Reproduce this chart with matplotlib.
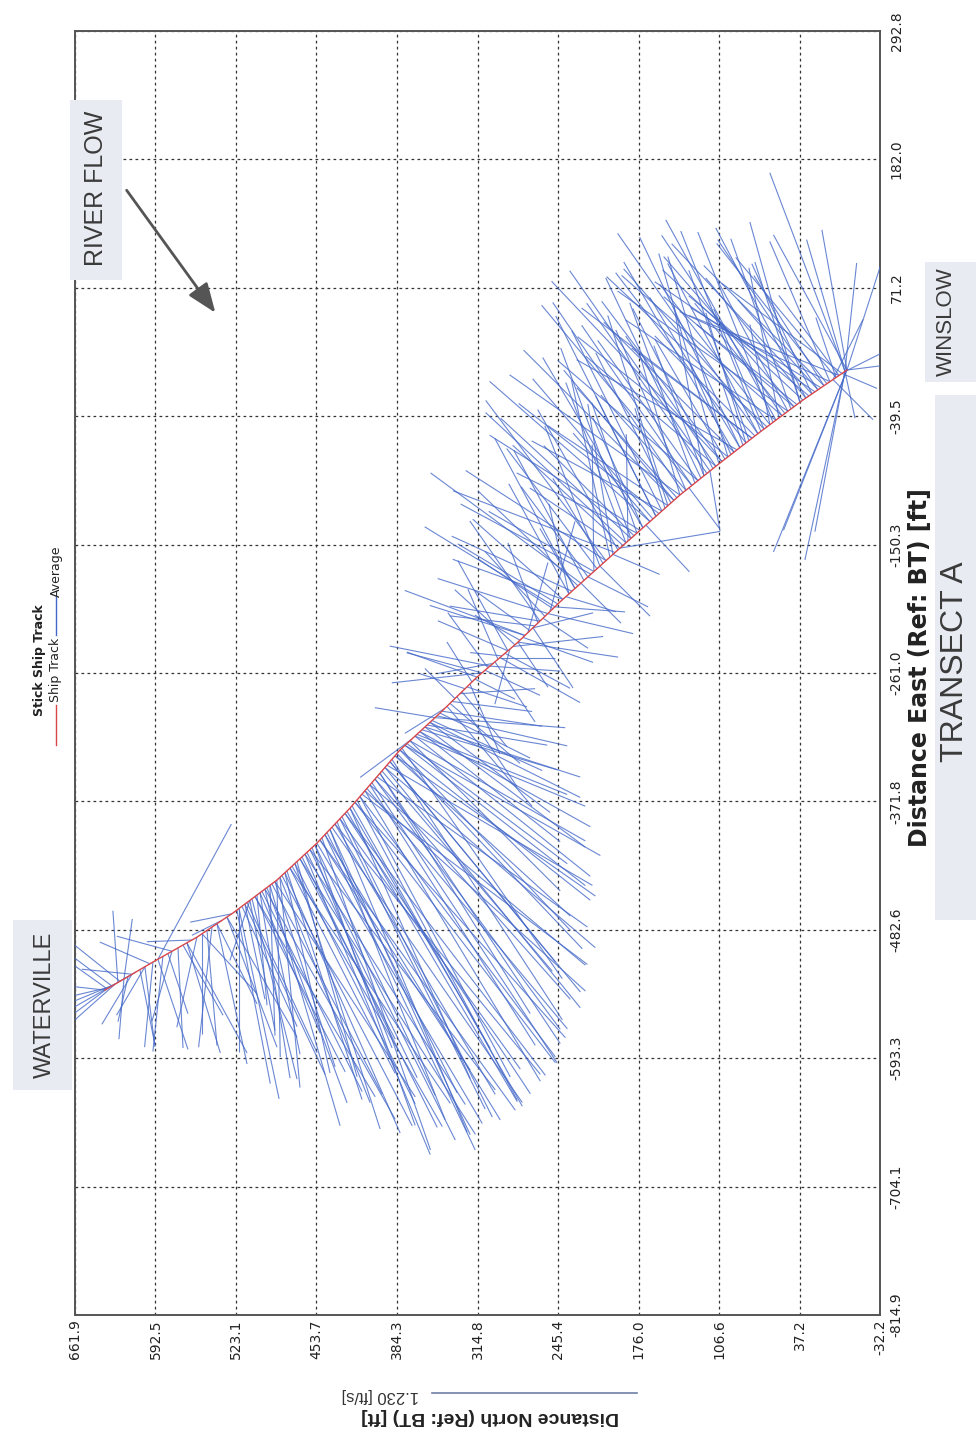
import numpy as np
import matplotlib
matplotlib.use("Agg")
import matplotlib.pyplot as plt
from matplotlib.collections import LineCollection
from matplotlib.patches import Rectangle, FancyArrowPatch
from matplotlib.lines import Line2D

plt.rcParams['font.family'] = ['Liberation Sans', 'DejaVu Sans']

# ---------------- data ----------------
north_ticks = [661.9, 592.5, 523.1, 453.7, 384.3, 314.8, 245.4, 176.0, 106.6, 37.2, -32.2]
east_ticks = [-814.9, -704.1, -593.3, -482.6, -371.8, -261.0, -150.3, -39.5, 71.2, 182.0, 292.8]
north_labels = ["661.9", "592.5", "523.1", "453.7", "384.3", "314.8", "245.4", "176.0", "106.6", "37.2", "-32.2"]
east_labels = ["-814.9", "-704.1", "-593.3", "-482.6", "-371.8", "-261.0", "-150.3", "-39.5", "71.2", "182.0", "292.8"]

# ship track (ft)
track_north = [636.1, 594.7, 556.7, 525.7, 487.8, 453.3, 424.8, 381.7, 347.2, 315.3,
               280.8, 243.8, 192.0, 140.3, 105.8, 71.3, 34.3, -3.7]
track_east = [-534.6, -510.4, -488.9, -468.1, -439.7, -407.8, -377.6, -327.5, -295.6, -264.6,
              -235.2, -199.8, -153.3, -107.5, -79.9, -53.2, -25.6, 0.3]

# ensemble positions (ft) where each stick starts
stick_north = [
    636.1, 634.3, 631.8, 630.0, 627.5, 624.9, 623.1, 619.7, 616.2, 612.8, 609.3, 605.9, 601.6, 597.3, 594.7, 590.4,
    586.1, 581.8, 578.3, 573.1, 568.8, 565.4, 561.1, 556.8, 552.4, 548.1, 543.8, 539.5, 535.2, 530.9, 526.6,
    522.3, 520.5, 517.9, 515.4, 513.6, 511.1, 509.3, 506.7, 505.0, 502.4,
    500.7, 498.1, 496.4, 493.8, 492.1, 489.5, 487.8, 485.2, 483.5, 480.9,
    479.2, 476.6, 474.8, 472.3, 470.5, 467.9, 466.2, 463.6, 461.9, 459.3,
    457.6, 455.0, 453.3, 450.7, 449.0, 446.4, 444.7, 442.1, 440.4, 437.8,
    436.0, 433.5, 431.7, 429.1, 427.4, 424.8, 423.1, 420.5, 418.8, 416.2,
    414.5, 411.9, 410.2, 407.6, 405.9, 403.3, 401.5, 399.0, 397.2, 394.7,
    392.9, 390.3, 388.6, 386.0, 384.3, 381.7, 380.0, 377.4, 375.7, 373.1,
    371.4, 368.8, 367.1, 364.5, 362.8, 360.2, 358.4, 355.9, 354.1, 351.5,
    349.8, 347.2, 345.5, 342.9, 341.2, 338.6, 336.9, 334.3, 332.6, 330.0,
    328.3, 325.7, 324.0, 321.4, 319.6, 317.1, 315.3,
    311.0, 308.4, 305.9, 304.1, 301.5, 299.8, 297.2, 295.5, 293.8, 291.2, 288.6, 286.9, 284.3, 282.6, 280.0, 278.3,
    275.7, 273.9, 271.4, 269.6, 267.0, 265.3, 262.7, 261.0, 258.4, 256.7, 254.1, 252.4, 249.8, 248.1, 245.5,
    241.2, 238.6, 236.0, 233.4, 230.8, 228.2, 225.7, 223.1, 219.6, 217.0,
    214.5, 211.9, 209.3, 206.7, 204.1, 200.7, 198.1, 196.3, 193.8, 192.0,
    189.5, 186.9, 185.1, 182.6, 180.0, 177.4, 174.8, 172.2, 169.6, 166.2,
    163.6, 161.0, 158.4, 155.8, 153.2, 150.7, 148.1, 145.5, 142.9, 140.3,
    137.7, 135.1, 132.5, 130.0, 127.4, 124.8, 122.2, 119.6, 117.0, 114.4,
    111.9, 109.3, 106.7,
    104.1, 101.5, 98.9, 96.3, 93.7, 91.2, 88.6, 86.0, 83.4, 80.8,
    78.2, 75.6, 73.1, 70.5, 67.9, 65.3, 62.7, 60.1, 57.5, 54.9,
    52.4, 49.8, 47.2, 44.6, 42.0, 39.4, 36.8, 34.3, 31.7, 29.1,
    26.5, 23.9, 21.3, 18.7, 16.1, 13.6, 11.0,
    -2.0, -3.7, -2.0, -3.7, -2.0, -3.7, -2.0, -3.7, -2.0, -3.7, -2.0, -3.7, -2.0,
    0.6, 3.2, 5.8, 8.4, 0.6, 3.2, 5.8, 8.4,
    # second pass (extra ensembles)
    520.5, 515.4, 511.1, 506.7, 502.4, 498.1, 493.8, 489.5, 485.2, 480.9,
    476.6, 472.3, 467.9, 463.6, 459.3, 455.0, 450.7, 446.4, 442.1, 437.8,
    433.5, 429.1, 424.8, 420.5, 416.2, 411.9, 407.6, 403.3, 399.0, 394.7,
    390.3, 386.0, 381.7, 377.4, 373.1, 368.8, 364.5, 360.2, 355.9, 351.5,
    241.2, 236.0, 230.8, 225.7, 219.6, 214.5, 209.3, 204.1, 198.1, 192.0,
    186.9, 182.6, 177.4, 172.2, 166.2, 161.0, 155.8, 150.7, 145.5, 140.3,
    135.1, 130.0, 124.8, 119.6, 114.4, 109.3, 104.1, 98.9, 93.7, 88.6,
    83.4, 78.2, 73.1, 67.9, 62.7, 57.5, 52.4, 47.2, 42.0, 36.8,
    31.7, 26.5, 21.3, 16.1, 11.0,
    304.1, 295.5, 288.6, 280.0, 273.9, 267.0, 261.0, 254.1, 248.1, 311.0,
    634.3, 627.5, 619.7, 612.8, 601.6, 590.4, 578.3, 565.4, 552.4, 539.5, 530.9]
stick_east = [
    -534.6, -533.5, -532.1, -531.1, -529.6, -528.1, -527.1, -525.1, -523.0, -520.9, -519.0, -517.0, -514.5, -511.9,
    -510.4, -508.0, -505.5, -503.1, -501.1, -498.2, -495.8, -493.8, -491.4, -488.9, -486.0, -483.1, -480.2, -477.4,
    -474.4, -471.6, -468.8,
    -465.6, -464.3, -462.4, -460.4, -459.1, -457.2, -455.9, -453.9, -452.6, -450.7,
    -449.4, -447.4, -446.2, -444.3, -443.0, -441.0, -439.7, -437.3, -435.7, -433.3,
    -431.7, -429.3, -427.7, -425.4, -423.7, -421.4, -419.8, -417.3, -415.8, -413.4,
    -411.7, -409.4, -407.8, -405.0, -403.2, -400.4, -398.6, -395.9, -394.0, -391.3,
    -389.5, -386.7, -384.9, -382.1, -380.3, -377.6, -375.6, -372.6, -370.6, -367.6,
    -365.6, -362.6, -360.6, -357.6, -355.6, -352.5, -350.6, -347.5, -345.6, -342.5,
    -340.6, -337.5, -335.6, -332.5, -330.5, -327.5, -326.0, -323.5, -321.9, -319.5,
    -318.0, -315.5, -314.0, -311.6, -310.0, -307.6, -306.0, -303.6, -302.0, -299.6,
    -298.0, -295.6, -294.0, -291.5, -289.7, -287.2, -285.6, -283.1, -281.4, -278.9,
    -277.2, -274.6, -273.0, -270.5, -268.8, -266.3, -264.6,
    -260.9, -258.7, -256.5, -255.1, -252.8, -251.4, -249.2, -247.7, -246.3, -244.0, -241.9, -240.4, -238.2, -236.7,
    -234.4, -232.7, -230.3, -228.7, -226.2, -224.5, -222.1, -220.4, -217.9, -216.3, -213.8, -212.2, -209.8, -208.0,
    -205.6, -204.0, -201.5,
    -197.5, -195.2, -192.9, -190.5, -188.2, -185.9, -183.5, -181.2, -178.1, -175.8,
    -173.5, -171.1, -168.8, -166.5, -164.1, -161.0, -158.7, -157.1, -154.8, -153.3,
    -151.0, -148.7, -147.2, -144.9, -142.6, -140.3, -138.0, -135.8, -133.4, -130.4,
    -128.2, -125.8, -123.6, -121.3, -119.0, -116.7, -114.4, -112.1, -109.9, -107.5,
    -105.5, -103.4, -101.3, -99.3, -97.2, -95.1, -93.0, -91.0, -88.9, -86.8,
    -84.8, -82.7, -80.6,
    -78.6, -76.6, -74.6, -72.6, -70.6, -68.5, -66.6, -64.6, -62.6, -60.5,
    -58.5, -56.6, -54.6, -52.6, -50.6, -48.7, -46.8, -44.8, -42.9, -41.0,
    -39.0, -37.1, -35.2, -33.3, -31.4, -29.5, -27.5, -25.6, -23.9, -22.0,
    -20.3, -18.5, -16.8, -15.0, -13.2, -11.4, -9.7,
    -0.9, 0.3, -0.9, 0.3, -0.9, 0.3, -0.9, 0.3, -0.9, 0.3, -0.9, 0.3, -0.9,
    -2.6, -4.4, -6.2, -7.9, -2.6, -4.4, -6.2, -7.9,
    -464.3, -460.4, -457.2, -453.9, -450.7, -447.4, -444.3, -441.0, -437.3, -433.3,
    -429.3, -425.4, -421.4, -417.3, -413.4, -409.4, -405.0, -400.4, -395.9, -391.3,
    -386.7, -382.1, -377.6, -372.6, -367.6, -362.6, -357.6, -352.5, -347.5, -342.5,
    -337.5, -332.5, -327.5, -323.5, -319.5, -315.5, -311.6, -307.6, -303.6, -299.6,
    -197.5, -192.9, -188.2, -183.5, -178.1, -173.5, -168.8, -164.1, -158.7, -153.3,
    -148.7, -144.9, -140.3, -135.8, -130.4, -125.8, -121.3, -116.7, -112.1, -107.5,
    -103.4, -99.3, -95.1, -91.0, -86.8, -82.7, -78.6, -74.6, -70.6, -66.6,
    -62.6, -58.5, -54.6, -50.6, -46.8, -42.9, -39.0, -35.2, -31.4, -27.5,
    -23.9, -20.3, -16.8, -13.2, -9.7,
    -255.1, -247.7, -241.9, -234.4, -228.7, -222.1, -216.3, -209.8, -204.0, -260.9,
    -533.5, -529.6, -525.1, -520.9, -514.5, -508.0, -501.1, -493.8, -486.0, -477.4, -471.6]

# depth-averaged velocity per ensemble (ft/s)
vel_north = [
    0.27, 0.24, 0.30, 0.24, 0.29, 0.03, 0.30, -0.05, 0.06, 0.18, 0.37, -0.09, 0.17, 0.30, 0.05, -0.44,
    0.06, -0.12, 0.33, -0.03, -0.24, -0.20, 0.27, 0.12, -0.33, -0.06, 0.08, -0.24, 0.18, -0.30, 0.25,
    -0.20, 0.00, -0.33, -0.12, -0.42, 0.12, -0.27, -0.54, -0.06, -0.36,
    -0.60, -0.21, -0.48, -0.03, -0.66, -0.36, -0.02, -0.54, -0.78, -0.27,
    -0.45, -0.63, -0.90, -0.72, -0.36, -0.57, -0.81, -0.96, -0.66, -0.87,
    -0.48, -0.72, -0.99, -0.90, -0.65, -1.05, -0.78, -0.84, -1.14, -0.96,
    -0.78, -1.08, -0.90, -1.20, -1.02, -0.84, -1.02, -1.26, -0.96, -1.17,
    -1.35, -1.05, -1.20, -1.29, -1.11, -1.11, -1.26, -1.08, -1.02, -1.17,
    -1.23, -1.14, -1.02, -1.05, -1.11, -1.14, -0.96, -1.08, -0.96, -1.05,
    0.31, -1.05, -0.90, -1.02, -0.81, -0.96, -0.72, -0.90, -0.66, 0.36,
    -0.78, -0.54, -0.60, 0.24, -0.51, -0.42, -0.48, 0.18, -0.36, -0.45,
    -0.27, 0.27, -0.36, -0.18, 0.15, -0.24, 0.42,
    0.45, -0.33, 0.24, -0.42, 0.33, -0.24, 0.18, -0.33, 0.19, -0.39, 0.42, 0.09, -0.54, 0.36, -0.18, 0.27,
    -0.42, 0.57, -0.12, 0.33, -0.36, 0.51, 0.18, 0.54, -0.27, 0.36, 0.66, -0.15, 0.45, -0.42, 0.60,
    0.54, -0.30, 0.36, 0.72, 0.21, 0.60, -0.24, 0.42, 0.40, 0.78,
    0.01, 0.54, -0.30, 0.30, 0.84, 0.23, -0.28, 0.97, 0.48, -0.60,
    0.66, 0.36, 0.01, 0.78, 0.54, 0.27, 0.90, 0.60, -0.26, 0.46,
    0.72, 0.36, 0.84, 0.54, 0.18, 0.72, 0.45, 0.90, 0.60, 0.24,
    0.78, 0.51, -0.18, 0.66, 0.39, 0.84, 0.57, 0.30, 0.72, -0.06,
    0.48, 0.78, 0.36,
    0.72, 0.42, 0.90, 0.24, 0.66, 0.96, 0.54, 0.12, 0.78, 0.36,
    1.02, 0.60, 0.84, 0.48, 0.30, 0.96, 0.66, 0.45, 0.90, 0.18,
    0.72, 0.54, 1.02, 0.36, 0.78, 0.60, 0.27, 0.84, 0.54, 0.72,
    0.36, 0.96, 0.60, 0.78, 0.42, 0.66, 0.90,
    0.45, 0.44, 0.23, 0.15, -0.07, -0.27, -0.24, -0.24, -0.06, 0.38, 0.18, 0.44, 0.24,
    0.72, 0.90, 0.60, -0.18, -0.21, 0.36, 0.12, -0.24,
    -0.24, -0.48, -0.15, -0.72, -0.18, -0.78, -0.42, -0.84, -0.12, -0.69,
    -0.96, -0.51, -1.05, -0.75, -1.11, -0.60, -1.17, -0.90, -0.69, -1.23,
    -0.87, -1.11, -0.72, -1.20, -0.90, -1.32, -0.99, -1.17, -0.90, -1.26,
    -0.99, -1.20, -1.02, -1.17, -0.90, -1.02, -0.84, -0.93, -0.72, -0.78,
    0.66, 0.12, 0.48, 0.90, -0.36, 0.63, 0.33, 0.72, 0.15, 0.54,
    0.84, 0.42, 0.72, 0.30, 0.96, 0.60, 0.78, 0.36, 0.66, 1.02,
    0.42, 0.90, 0.60, 0.18, 0.84, 0.54, 1.02, 0.36, 0.78, 0.60,
    0.24, 0.72, 0.54, 0.84, 0.12, 0.66, 0.96, 0.42, 0.78, 0.30,
    0.60, 0.84, 0.48, 0.72, 0.36,
    0.60, -0.48, 0.30, -0.60, 0.72, -0.24, 0.42, -0.51, 0.78, 0.54,
    0.21, 0.27, 0.03, 0.30, -0.06, -0.18, 0.12, -0.36, 0.00, -0.18, -0.42]
vel_east = [
    0.03, -0.18, -0.07, 0.18, -0.12, 0.43, 0.24, 0.36, -0.27, -0.30, -0.21, -0.45, -0.29, 0.13, -0.51, 0.81,
    -0.57, -0.36, 0.09, -0.60, -0.42, -0.66, -0.01, -0.54, -0.36, -0.69, -0.72, -0.48, -0.09, -0.78, -0.05,
    -1.04, -0.86, -0.72, -0.57, -0.90, -0.36, -1.08, -1.05, -0.66, -0.84,
    -1.20, -0.99, -1.29, -0.90, -1.26, -1.11, -1.06, -1.35, -1.50, -1.20,
    -1.37, -1.23, -1.56, -1.44, -1.29, -1.08, -1.62, -1.50, -1.35, -1.74,
    -1.20, -1.50, -1.68, -1.38, -1.87, -1.71, -1.56, -1.83, -1.65, -1.62,
    -1.86, -1.50, -1.80, -1.57, -1.74, -1.44, -1.80, -1.41, -1.80, -1.56,
    -1.02, -1.74, -1.44, -1.08, -1.68, -1.50, -0.90, -1.62, -1.20, -1.44,
    -0.72, -1.38, -1.56, -0.96, -1.17, -0.90, -1.38, -0.84, -0.72, -0.60,
    -0.23, -0.84, -0.36, -0.57, -0.24, -0.72, -0.12, -0.45, -0.30, 0.06,
    -0.18, -0.27, -0.09, -0.15, -0.60, -0.36, -0.06, 0.18, -0.54, 0.03,
    -0.33, 0.09, -0.12, -0.42, 0.24, -0.12, 0.15,
    0.12, -0.15, 0.33, -0.03, -0.06, -0.36, 0.42, 0.00, 0.02, -0.21, 0.18, -0.33, 0.06, 0.33, -0.27, 0.15,
    -0.15, 0.18, 0.42, 0.24, 0.09, 0.06, 0.48, 0.09, -0.18, 0.39, 0.21, 0.54, 0.30, -0.03, 0.36,
    0.48, -0.09, 0.66, 0.33, 0.36, 0.57, -0.24, 0.78, 0.54, 0.42,
    0.76, 0.72, -0.30, 0.51, 0.54, 1.06, -0.12, 0.37, 0.84, 0.10,
    0.60, 0.96, 0.64, 0.72, 0.54, 0.78, 0.57, 1.02, -0.28, 0.53,
    0.84, 0.72, 0.66, 1.08, 0.60, 0.48, 0.90, 0.90, 0.66, 0.84,
    1.14, 0.57, -0.24, 0.96, 1.08, 0.72, 1.20, 0.78, 1.02, -0.36,
    0.96, 0.66, 1.26,
    0.96, 0.72, 0.72, 0.54, 1.14, 0.54, 0.90, 0.36, 1.02, 1.02,
    0.78, 0.60, 1.20, 1.20, 0.72, 0.90, 0.84, 1.14, 0.60, 0.90,
    1.08, 0.66, 0.72, 1.02, 0.90, 0.48, 0.84, 0.78, 1.02, 0.60,
    0.78, 0.66, 0.90, 0.48, 0.66, 0.84, 0.42,
    1.19, 0.81, 0.79, 0.84, 0.65, 0.84, 0.12, 0.03, -0.28, -0.96, -0.96, -1.09, -1.13,
    0.54, 0.36, 0.72, 0.36, -0.09, 0.48, 0.36, -0.24,
    -1.14, -1.02, -0.78, -1.20, -1.11, -1.38, -1.44, -1.29, -1.26, -1.56,
    -1.41, -1.59, -1.65, -1.80, -1.44, -1.68, -1.62, -1.89, -1.74, -1.50,
    -1.74, -1.68, -1.62, -1.56, -1.68, -1.20, -1.56, -1.32, -1.44, -1.08,
    -1.20, -0.84, -1.08, -0.66, -0.90, -0.42, -0.66, -0.30, -0.54, -0.06,
    0.24, 0.54, 0.90, 0.66, -0.18, 0.36, 0.84, 0.96, 0.90, 0.36,
    0.78, 1.14, 0.36, 0.66, 0.84, 1.20, 0.42, 1.14, 0.78, 0.72,
    0.96, 1.08, 0.84, 1.02, 1.20, 0.78, 1.08, 1.20, 0.78, 1.26,
    0.78, 0.54, 1.02, 0.96, 0.60, 1.20, 0.84, 0.78, 0.66, 1.08,
    0.72, 0.90, 0.54, 0.72, 0.84,
    0.12, -0.27, 0.54, -0.09, 0.27, -0.36, 0.60, -0.12, 0.48, -0.06,
    0.15, -0.24, -0.36, 0.03, -0.48, -0.54, -0.42, -0.66, -0.60, -0.84, -0.72]

ref_speed = 1.230          # ft/s  (scale bar)
stick_scale = 144.0        # ft of plot per ft/s

# ---------------- figure ----------------
W, H = 976, 1435
fig = plt.figure(figsize=(W / 100, H / 100), dpi=100)
fig.patch.set_facecolor('white')

def fx(px):
    return px / W

def fy(py):
    return 1 - py / H

L, R, T, B = 75, 880, 31, 1315
ax = fig.add_axes([fx(L), fy(B), (R - L) / W, (B - T) / H])

# rotated page: horizontal axis = Distance North (reversed), vertical = Distance East
ax.set_xlim(north_ticks[0], north_ticks[-1])
ax.set_ylim(east_ticks[0], east_ticks[-1])

n0 = np.array(stick_north)
e0 = np.array(stick_east)
vn = np.array(vel_north)
ve = np.array(vel_east)
segs = np.stack([np.column_stack([n0, e0]),
                 np.column_stack([n0 + vn * stick_scale, e0 + ve * stick_scale])], axis=1)
lc = LineCollection(segs, colors='#4569c9', linewidths=0.8, alpha=0.8, zorder=3)
ax.add_collection(lc)

ax.plot(track_north, track_east, color='#d9464a', lw=1.0, zorder=4)

# grid & ticks
tick_font = dict(family=['DejaVu Sans'], size=10)
ax.set_xticks(north_ticks)
ax.set_xticklabels(north_labels, rotation=90, color='#222222', fontdict=tick_font)
ax.set_yticks(east_ticks)
ax.set_yticklabels(east_labels, rotation=90, color='#222222', va='center', fontdict=tick_font)
ax.yaxis.tick_right()
ax.tick_params(axis='x', length=0, pad=3)
ax.tick_params(axis='y', length=0, pad=7)
ax.grid(True, color='#333333', linestyle=(0, (2.2, 2.6)), linewidth=0.9, zorder=1)
ax.set_axisbelow(True)
for s in ax.spines.values():
    s.set_color('#555555')
    s.set_linewidth(1.4)

# axis titles (page rotated)
fig.text(fx(490), fy(1416), "Distance North (Ref: BT) [ft]", rotation=180, fontsize=14,
         fontweight='bold', ha='center', va='center', color='#222222')
fig.text(fx(920), fy(668), "Distance East (Ref: BT) [ft]", rotation=90, fontsize=17,
         family=['DejaVu Sans'], fontweight='bold', ha='center', va='center', color='#222222')

# scale bar
fig.add_artist(Line2D([fx(432), fx(637)], [fy(1393), fy(1393)], transform=fig.transFigure,
                      color='#6f7fa8', lw=1.2))
fig.text(fx(380), fy(1395), f"{ref_speed:.3f} [ft/s]", rotation=180, fontsize=12,
         ha='center', va='center', color='#333333')

# legend (rotated)
fig.text(fx(40), fy(660), "Stick Ship Track", rotation=90, fontsize=9, fontweight='bold',
         family=['DejaVu Sans'], ha='center', va='center', color='#222222')
fig.add_artist(Line2D([fx(56), fx(56)], [fy(745), fy(705)], transform=fig.transFigure,
                      color='#d9464a', lw=1.0))
fig.text(fx(56), fy(670), "Ship Track", rotation=90, fontsize=9, family=['DejaVu Sans'],
         ha='center', va='center', color='#222222')
fig.add_artist(Line2D([fx(56), fx(56)], [fy(635), fy(597)], transform=fig.transFigure,
                      color='#4569c9', lw=1.0))
fig.text(fx(56), fy(571), "Average", rotation=90, fontsize=9, family=['DejaVu Sans'],
         ha='center', va='center', color='#222222')

# paper annotations
def box(x0, y0, x1, y1):
    fig.add_artist(Rectangle((fx(x0), fy(y1)), (x1 - x0) / W, (y1 - y0) / H,
                             transform=fig.transFigure, facecolor='#e8ebf1',
                             edgecolor='none', zorder=5))

box(70, 100, 122, 280)
fig.text(fx(96), fy(188), "RIVER FLOW", rotation=90, fontsize=18, ha='center', va='center',
         color='#3a3a3a', zorder=6)
fig.add_artist(FancyArrowPatch((fx(125), fy(188)), (fx(217), fy(315)), transform=fig.transFigure,
                               arrowstyle='-|>,head_length=0.9,head_width=0.35',
                               mutation_scale=20, color='#555555', lw=2.0, zorder=6))

box(13, 920, 72, 1090)
fig.text(fx(45), fy(1005), "WATERVILLE", rotation=90, fontsize=17, ha='center', va='center',
         color='#3a3a3a', zorder=6)

box(925, 262, 976, 382)
fig.text(fx(946), fy(322), "WINSLOW", rotation=90, fontsize=16, ha='center', va='center',
         color='#3a3a3a', zorder=6)

box(935, 395, 976, 920)
fig.text(fx(955), fy(662), "TRANSECT A", rotation=90, fontsize=23, ha='center', va='center',
         color='#3a3a3a', zorder=6)

fig.savefig("out.png", dpi=100)
